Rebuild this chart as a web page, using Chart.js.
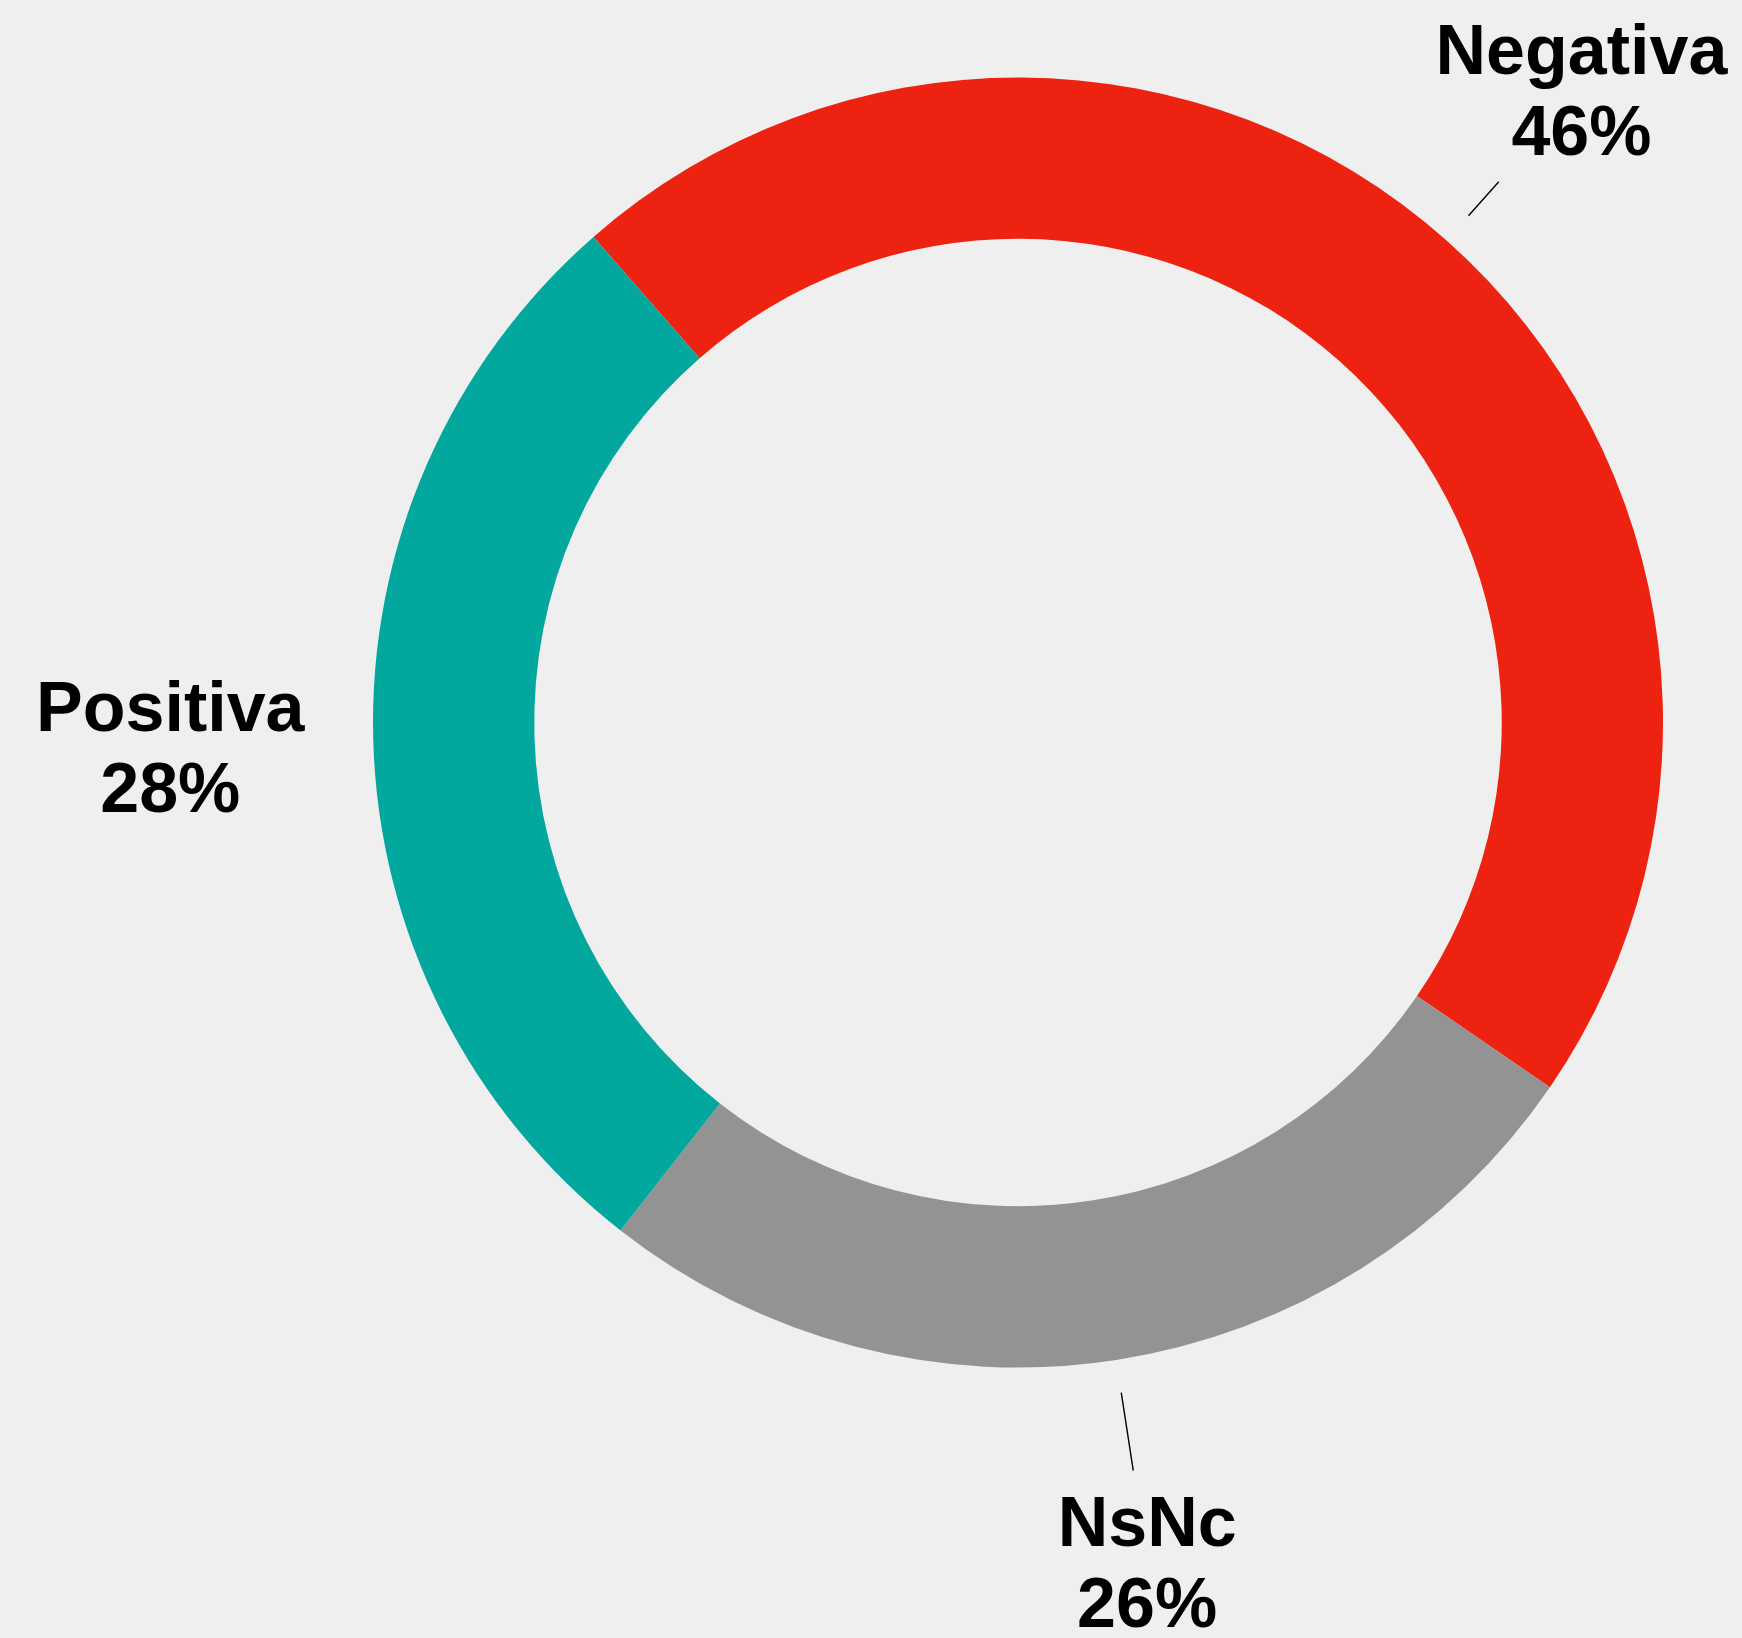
<!DOCTYPE html>
<html lang="es">

<head>
  <meta charset="UTF-8" />
  <script src="https://cdn.jsdelivr.net/npm/chart.js"></script>
  <title>Valoración</title>
  <style>
    html, body { margin: 0; padding: 0; background: #efefef; }
    #wrap { width: 1742px; height: 1638px; position: relative; }
  </style>
</head>

<body>
  <div id="wrap">
    <canvas id="donut"></canvas>
  </div>

  <script>
    const labels = ['Negativa', 'NsNc', 'Positiva'];
    const values = [46, 26, 28];
    const colors = ['#ee2210', '#939393', '#02a89e'];

    // labels sit outside the ring, with a short leader line when there is room
    const outsideLabels = {
      id: 'outsideLabels',
      afterDatasetsDraw(chart) {
        const ctx = chart.ctx;
        const arcs = chart.getDatasetMeta(0).data;
        const total = values.reduce((a, b) => a + b, 0);
        ctx.save();
        ctx.font = 'bold 70px "Liberation Sans", Arial, sans-serif';
        ctx.textAlign = 'center';
        ctx.textBaseline = 'alphabetic';
        ctx.fillStyle = '#000';
        arcs.forEach((arc, i) => {
          const p = arc.getProps(['x', 'y', 'startAngle', 'endAngle', 'outerRadius'], true);
          const mid = (p.startAngle + p.endAngle) / 2;
          const dx = Math.cos(mid), dy = Math.sin(mid);
          const cx = p.x + dx * (p.outerRadius + 203);
          const cy = p.y + dy * (p.outerRadius + 203);
          const line1 = labels[i];
          const line2 = Math.round(values[i] / total * 100) + '%';
          const b1 = cy - 15, b2 = cy + 66;
          ctx.fillText(line1, cx, b1);
          ctx.fillText(line2, cx, b2);

          // glyph box of the two lines, padded
          const m1 = ctx.measureText(line1), m2 = ctx.measureText(line2);
          const pad = 26;
          const left = cx - Math.max(m1.width, m2.width) / 2 - pad;
          const right = cx + Math.max(m1.width, m2.width) / 2 + pad;
          const top = b1 - m1.actualBoundingBoxAscent - pad;
          const bottom = b2 + m2.actualBoundingBoxDescent + pad;

          const r0 = p.outerRadius + 33;
          let r1 = Infinity;
          if (dx > 0) r1 = Math.min(r1, (left - p.x) / dx);
          if (dx < 0) r1 = Math.min(r1, (right - p.x) / dx);
          let ry = Infinity;
          if (dy > 0) ry = (top - p.y) / dy;
          if (dy < 0) ry = (bottom - p.y) / dy;
          // ray enters the box at the larger of the two entry distances
          let enter = -Infinity;
          if (dx > 0) enter = Math.max(enter, (left - p.x) / dx);
          if (dx < 0) enter = Math.max(enter, (right - p.x) / dx);
          if (dy > 0) enter = Math.max(enter, (top - p.y) / dy);
          if (dy < 0) enter = Math.max(enter, (bottom - p.y) / dy);
          if (enter - r0 > 12) {
            ctx.beginPath();
            ctx.strokeStyle = '#000';
            ctx.lineWidth = 1.4;
            ctx.moveTo(p.x + dx * r0, p.y + dy * r0);
            ctx.lineTo(p.x + dx * enter, p.y + dy * enter);
            ctx.stroke();
          }
        });
        ctx.restore();
      }
    };

    const chart = new Chart(document.getElementById('donut'), {
      type: 'doughnut',
      data: {
        labels: labels,
        datasets: [{
          data: values,
          backgroundColor: colors,
          borderWidth: 0
        }]
      },
      options: {
        responsive: true,
        maintainAspectRatio: false,
        animation: false,
        cutout: '75%',
        rotation: -41.16,
        layout: {
          padding: { left: 373, right: 79, top: 77, bottom: 270 }
        },
        plugins: {
          legend: { display: false },
          tooltip: { enabled: false }
        }
      },
      plugins: [outsideLabels]
    });
  </script>
</body>

</html>
